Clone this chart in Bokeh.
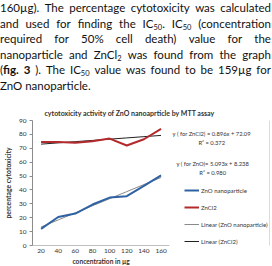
from bokeh.plotting import figure
from bokeh.models import (Div, Label, Legend, LegendItem, Range1d, FixedTicker,
                          BoxAnnotation, Title)
from bokeh.layouts import column
from bokeh.embed import file_html
from bokeh.resources import INLINE

# ---- data ----
conc_labels = ["20", "40", "60", "80", "100", "120", "140", "160"]
zno_values = [12, 20.5, 23, 29.5, 34.5, 35.5, 43, 50.5]
zncl2_values = [74.5, 74.5, 74, 75, 77, 72, 76.5, 84]
zno_fit = (5.093, 8.238)      # slope, intercept (per category index)
zncl2_fit = (0.896, 72.09)
y_ticks = [0, 10, 20, 30, 40, 50, 60, 70, 80, 90]

idx = list(range(1, len(conc_labels) + 1))
zno_trend = [zno_fit[0] * i + zno_fit[1] for i in idx]
zncl2_trend = [zncl2_fit[0] * i + zncl2_fit[1] for i in idx]

FONT = "Lato"
TXT = "#333333"

# ---- paragraph (each line justified with flex) ----
lines = [
    "160µg). The percentage cytotoxicity was calculated",
    "and used for finding the IC<sub>50</sub>. IC<sub>50</sub> (concentration",
    "required for 50% cell death) value for the",
    "nanoparticle and ZnCl<sub>2</sub> was found from the graph",
    "(<b>fig. 3</b>). The IC<sub>50</sub> value was found to be 159µg for",
    "ZnO nanoparticle.",
]
rows = []
for k, ln in enumerate(lines):
    words = "".join(f"<span>{w}</span>" for w in ln.split(" "))
    if k < len(lines) - 1:
        rows.append(f'<div style="display:flex;justify-content:space-between;'
                    f'white-space:nowrap;height:15.6px;">{words}</div>')
    else:
        rows.append(f'<div style="display:flex;gap:0.25em;white-space:nowrap;'
                    f'height:15.6px;">{words}</div>')
para = (f'<style>sub{{font-size:7.5px;line-height:0;vertical-align:-2px}}</style>'
        f'<div style="font-family:{FONT};font-size:11.5px;line-height:15.6px;'
        f'color:#111;width:271px;margin:0;padding:0;overflow:hidden;">'
        + "".join(rows) + "</div>")
div = Div(text=para, width=272, height=99, margin=0, styles={"overflow": "hidden"})

# ---- chart ----
cat_px = 17.5                 # pixels per category
frame_w = 272 - 27 - 2
x_end = 0.5 + frame_w / cat_px
p = figure(width=272, height=167, output_backend="svg", toolbar_location=None,
           x_range=Range1d(0.5, x_end), y_range=Range1d(0, 90),
           min_border_left=27, min_border_right=2, min_border_top=21,
           min_border_bottom=21, margin=0)
p.outline_line_color = None
p.xgrid.visible = False
p.ygrid.visible = False

p.title.text = "cytotoxicity activity of ZnO nanoaprticle  by MTT assay"
p.title.align = "left"
p.title.offset = 12
p.title.text_font = FONT
p.title.text_font_size = "7px"
p.title.text_font_style = "bold"
p.title.text_color = TXT
p.title.standoff = 8

p.yaxis.ticker = FixedTicker(ticks=y_ticks)
p.xaxis.ticker = FixedTicker(ticks=idx)
p.xaxis.bounds = (0.5, 8.5)
p.xaxis.major_label_overrides = {i: lab for i, lab in zip(idx, conc_labels)}
for ax in (p.xaxis[0], p.yaxis[0]):
    ax.major_label_text_font = FONT
    ax.major_label_text_font_size = "6.5px"
    ax.major_label_text_color = TXT
    ax.minor_tick_line_color = None
    ax.axis_line_color = "#8c8c8c"
    ax.major_tick_line_color = "#8c8c8c"
    ax.axis_label_text_font = FONT
    ax.axis_label_text_font_size = "6.8px"
    ax.axis_label_text_font_style = "bold"
    ax.axis_label_text_color = TXT
p.xaxis.axis_line_color = "#c0c0c0"
p.xaxis.major_tick_out = 0
p.xaxis.major_tick_in = 0
p.xaxis.major_label_standoff = 3
p.yaxis.major_tick_out = 3
p.yaxis.major_tick_in = 0
p.yaxis.major_label_standoff = 3
p.yaxis.axis_label = "percentage cytotoxicity"
p.yaxis.axis_label_standoff = 4

# x-axis title, left-aligned under the plotted categories
xt = Title(text="concentration in µg", align="left", offset=40, standoff=-2,
           text_font=FONT, text_font_size="6.6px", text_font_style="bold",
           text_color=TXT)
p.add_layout(xt, "below")

r_tz = p.line(idx, zno_trend, line_color="#8a8a8a", line_width=1)
r_tc = p.line(idx, zncl2_trend, line_color="#222222", line_width=1)
r_zno = p.line(idx, zno_values, line_color="#2f62a3", line_width=2)
r_zncl2 = p.line(idx, zncl2_values, line_color="#b3292c", line_width=2)

legend = Legend(items=[
    LegendItem(label="ZnO nanoparticle", renderers=[r_zno]),
    LegendItem(label="ZnCl2", renderers=[r_zncl2]),
    LegendItem(label="Linear (ZnO nanoparticle)", renderers=[r_tz]),
    LegendItem(label="Linear (ZnCl2)", renderers=[r_tc]),
], location=(152, -1))
legend.border_line_color = None
legend.background_fill_alpha = 0
legend.padding = 0
legend.margin = 0
legend.spacing = 7
legend.glyph_width = 15
legend.glyph_height = 10
legend.label_height = 10
legend.label_standoff = 2
legend.label_text_font = FONT
legend.label_text_font_size = "6px"
legend.label_text_color = TXT
p.add_layout(legend, "center")

def px_to_y(sy):
    return (245 - sy) * 90 / 125

def px_to_x(sx):
    return 0.5 + (sx - 27) / cat_px

def lab(sx, sy, text, size="5.8px"):
    p.add_layout(Label(x=px_to_x(sx), y=px_to_y(sy), text=text, text_font=FONT,
                       text_font_size=size, text_color=TXT, text_align="center",
                       text_baseline="middle"))

lab(210, 133, "y ( for ZnCl2) = 0.896x + 72.09")
lab(210, 142, "R² = 0.372")
lab(211, 163, "y ( for ZnO)= 5.093x + 8.238")
lab(211, 172, "R² = 0.980")

# chart-area border
p.add_layout(BoxAnnotation(left=1, right=269, top=0, bottom=400,
                           left_units="canvas", right_units="canvas",
                           top_units="canvas", bottom_units="canvas",
                           fill_color=None, line_color="#8c8c8c", line_width=1))

layout = column(div, p, margin=0)
open("out.html", "w").write(file_html(layout, INLINE))
